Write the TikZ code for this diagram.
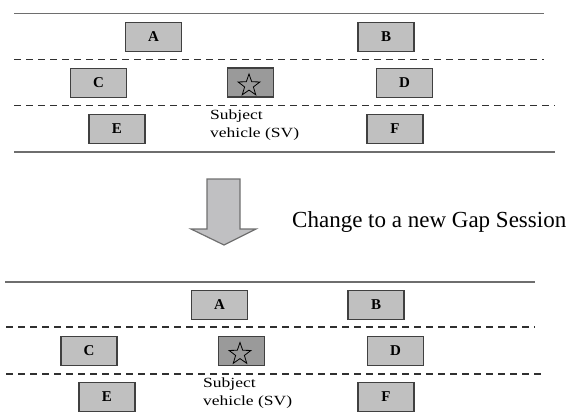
\documentclass[tikz,border=0pt]{standalone}
\usepackage{fontspec}
\setmainfont{Liberation Serif}
\newfontfamily\svfont[FakeStretch=1.25]{Liberation Serif}
\usetikzlibrary{shapes.geometric}
\definecolor{boxfill}{HTML}{C0C0C0}
\definecolor{svfill}{HTML}{9A9A9A}
\definecolor{boxline}{HTML}{404040}
\definecolor{solidline}{HTML}{6E6E6E}
\definecolor{dashline}{HTML}{303030}
\definecolor{arrowfill}{HTML}{C0C0C2}
\definecolor{arrowline}{HTML}{707070}
\begin{document}
\begin{tikzpicture}[x=1pt,y=-1pt,
  car/.style={draw=boxline, fill=boxfill, line width=1.2pt, minimum width=56pt, minimum height=29pt, inner sep=0pt, font=\bfseries\fontsize{15}{15}\selectfont},
  svcar/.style={car, fill=svfill, minimum width=46pt},
  svstar/.style={star, star points=5, star point ratio=2.5, draw=black, line width=0.8pt, minimum size=23pt, inner sep=0pt},
  laneedge/.style={draw=solidline, line width=1.5pt},
  lanedash/.style={draw=dashline, line width=1.3pt, dash pattern=on 7pt off 5pt},
  svlabel/.style={anchor=base west, align=left, inner sep=0pt, font=\svfont\fontsize{14}{18}\selectfont},
  bigarrow/.style={fill=arrowfill, draw=arrowline, line width=1.2pt, line join=miter}
]
\useasboundingbox (0,0) rectangle (567,417);

% ---------- top panel ----------
\coordinate (t1a) at (14,13.5);  \coordinate (t1b) at (544,13.5);
\coordinate (t2a) at (14,59.5);  \coordinate (t2b) at (544,59.5);
\coordinate (t3a) at (14,105.5); \coordinate (t3b) at (555,105.5);
\coordinate (t4a) at (14,152);   \coordinate (t4b) at (555,152);
\draw[laneedge] (t1a) -- (t1b);
\draw[lanedash] (t2a) -- (t2b);
\draw[lanedash] (t3a) -- (t3b);
\draw[laneedge] (t4a) -- (t4b);

\node[car] (tA) at (153.5,37) {A};
\node[car] (tB) at (386,37) {B};
\node[car] (tC) at (98.5,83) {C};
\node[svcar] (tSV) at (250.5,82.5) {};
\node[svstar] (tstar) at (249,85.5) {};
\node[car] (tD) at (404.5,83) {D};
\node[car] (tE) at (117,129) {E};
\node[car] (tF) at (395,129) {F};
\node[svlabel] (tlab) at (210,138) {Subject\\vehicle (SV)};

% ---------- arrow and caption ----------
\path[bigarrow] (207,179) -- (240,179) -- (240,229) -- (256,229) -- (224,245) -- (191,229) -- (207,229) -- cycle;
\node[anchor=base west, inner sep=0pt, font=\fontsize{23}{23}\selectfont] (caption) at (292,227) {Change to a new Gap Session};

% ---------- bottom panel ----------
\coordinate (b1a) at (5,282);   \coordinate (b1b) at (535,282);
\coordinate (b2a) at (6,327);   \coordinate (b2b) at (535,327);
\coordinate (b3a) at (6,374);   \coordinate (b3b) at (541,374);
\draw[laneedge] (b1a) -- (b1b);
\draw[lanedash] (b2a) -- (b2b);
\draw[lanedash] (b3a) -- (b3b);

\node[car] (bA) at (219.5,305) {A};
\node[car] (bB) at (376,305) {B};
\node[car] (bC) at (89,351) {C};
\node[svcar] (bSV) at (241.5,351) {};
\node[svstar] (bstar) at (240,354) {};
\node[car] (bD) at (395.5,351) {D};
\node[car] (bE) at (107,397) {E};
\node[car] (bF) at (386,397) {F};
\node[svlabel] (blab) at (203,405) {Subject\\vehicle (SV)};
\end{tikzpicture}
\end{document}
